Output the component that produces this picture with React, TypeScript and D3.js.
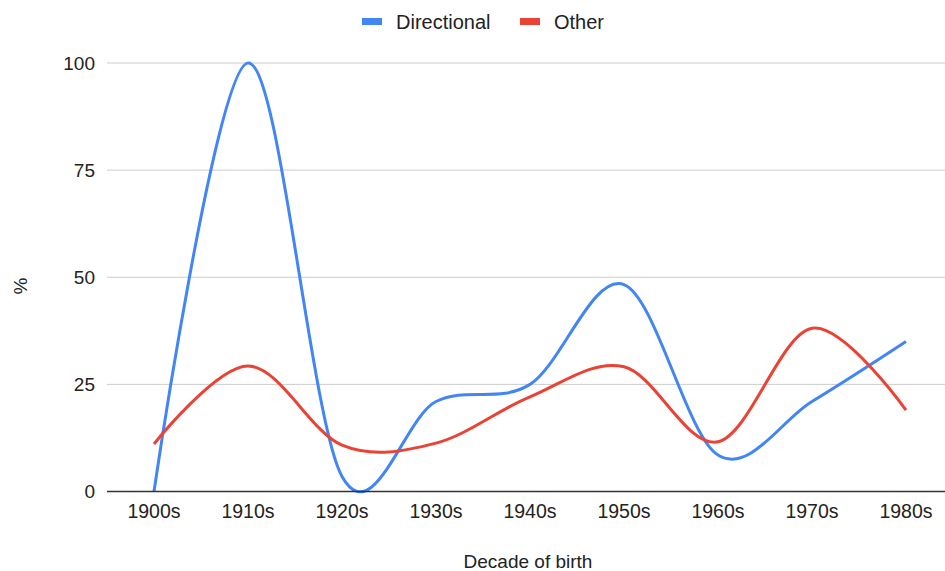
import React, { useEffect, useRef } from 'react';
import * as d3 from 'd3';

const decades = ['1900s', '1910s', '1920s', '1930s', '1940s', '1950s', '1960s', '1970s', '1980s'];
const directional = [0, 100, 3.5, 21, 25, 48.3, 8.5, 21, 35];
const other = [11.1, 29.3, 10.8, 11.3, 22.1, 29.1, 11.6, 38.1, 19];
const yTicks = [0, 25, 50, 75, 100];

const series = [
  { name: 'Directional', values: directional, color: '#4285f4' },
  { name: 'Other', values: other, color: '#ea4335' },
];

const W = 945;
const H = 571;
const FONT = 'Arial, "Liberation Sans", sans-serif';

const App = () => {
  const svgRef = useRef<SVGSVGElement>(null);

  useEffect(() => {
    const svg = d3.select(svgRef.current);
    svg.selectAll('*').remove();

    const left = 107;
    const right = 953;
    const top = 63;
    const bottom = 491.5;

    const x = d3.scalePoint<string>().domain(decades).range([left, right]).padding(0.5);
    const y = d3.scaleLinear().domain([0, 100]).range([bottom, top]);

    // gridlines
    svg.append('g')
      .selectAll('line')
      .data(yTicks.filter(t => t !== 0))
      .enter().append('line')
      .attr('x1', left)
      .attr('x2', W)
      .attr('y1', d => y(d))
      .attr('y2', d => y(d))
      .attr('stroke', '#cccccc')
      .attr('stroke-width', 1);

    // y tick labels
    svg.append('g')
      .selectAll('text')
      .data(yTicks)
      .enter().append('text')
      .attr('x', 95)
      .attr('y', d => y(d))
      .attr('dy', '0.35em')
      .attr('text-anchor', 'end')
      .attr('font-family', FONT)
      .attr('font-size', 19)
      .attr('fill', '#222')
      .text(d => d);

    // lines
    const line = d3.line<number>()
      .x((d, i) => x(decades[i]) as number)
      .y(d => y(d))
      .curve(d3.curveCardinal.tension(0));

    series.forEach(s => {
      svg.append('path')
        .datum(s.values)
        .attr('fill', 'none')
        .attr('stroke', s.color)
        .attr('stroke-width', 3)
        .attr('stroke-linejoin', 'round')
        .attr('d', line);
    });

    // baseline
    svg.append('line')
      .attr('x1', left)
      .attr('x2', W)
      .attr('y1', y(0))
      .attr('y2', y(0))
      .attr('stroke', '#333')
      .attr('stroke-width', 1.5);

    // x tick labels
    svg.append('g')
      .selectAll('text')
      .data(decades)
      .enter().append('text')
      .attr('x', d => x(d) as number)
      .attr('y', 518)
      .attr('text-anchor', 'middle')
      .attr('font-family', FONT)
      .attr('font-size', 19.5)
      .attr('fill', '#222')
      .text(d => d);

    // axis titles
    svg.append('text')
      .attr('x', 528)
      .attr('y', 568)
      .attr('text-anchor', 'middle')
      .attr('font-family', FONT)
      .attr('font-size', 19)
      .attr('fill', '#222')
      .text('Decade of birth');

    svg.append('text')
      .attr('transform', 'translate(27,286) rotate(-90)')
      .attr('text-anchor', 'middle')
      .attr('font-family', FONT)
      .attr('font-size', 19)
      .attr('fill', '#222')
      .text('%');

    // legend
    const legend = svg.append('g');
    const legendX = [362, 520];
    series.forEach((s, i) => {
      legend.append('rect')
        .attr('x', legendX[i])
        .attr('y', 18)
        .attr('width', 20)
        .attr('height', 7)
        .attr('fill', s.color);
      legend.append('text')
        .attr('x', legendX[i] + 34)
        .attr('y', 29)
        .attr('font-family', FONT)
        .attr('font-size', 20)
        .attr('fill', '#222')
        .text(s.name);
    });
  }, []);

  return (
    <svg
      ref={svgRef}
      width={W}
      height={H}
      style={{ position: 'absolute', left: 0, top: 0, background: '#fff' }}
    />
  );
};

export default App;
